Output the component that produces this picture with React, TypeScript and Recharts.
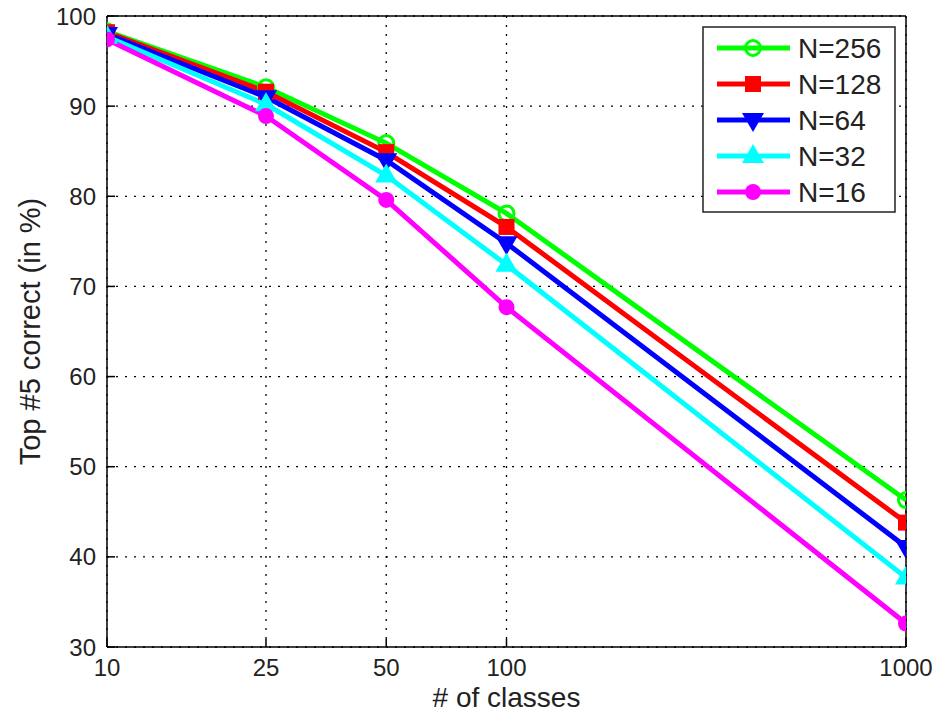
import React from 'react'
import {
  LineChart,
  Line,
  XAxis,
  YAxis,
  CartesianGrid,
  ReferenceLine,
  Legend,
} from 'recharts'

const classes = [10, 25, 50, 100, 1000]
const n256 = [98.3, 92.1, 85.9, 78.1, 46.3]
const n128 = [98.2, 91.6, 84.9, 76.6, 43.8]
const n64 = [98.0, 91.0, 84.0, 74.8, 41.1]
const n32 = [97.7, 90.2, 82.3, 72.4, 37.7]
const n16 = [97.4, 88.9, 79.6, 67.7, 32.6]

const xTicks = [10, 25, 50, 100, 1000]
const yTicks = [30, 40, 50, 60, 70, 80, 90, 100]

const series = [
  { key: 'n256', name: 'N=256', color: '#00ff00', shape: 'openCircle', values: n256 },
  { key: 'n128', name: 'N=128', color: '#ff0000', shape: 'square', values: n128 },
  { key: 'n64', name: 'N=64', color: '#0000ff', shape: 'triDown', values: n64 },
  { key: 'n32', name: 'N=32', color: '#00ffff', shape: 'triUp', values: n32 },
  { key: 'n16', name: 'N=16', color: '#ff00ff', shape: 'circle', values: n16 },
]

const data = classes.map((c, i) => {
  const row: Record<string, number> = { classes: c }
  series.forEach((s) => {
    row[s.key] = s.values[i]
  })
  return row
})

const font = '"Liberation Sans", Arial, Helvetica, sans-serif'

function Marker({ cx, cy, shape, color }: { cx: number; cy: number; shape: string; color: string }) {
  if (cx == null || cy == null) return null
  switch (shape) {
    case 'openCircle':
      return <circle cx={cx} cy={cy} r={7.5} fill="none" stroke={color} strokeWidth={3} />
    case 'square':
      return <rect x={cx - 8} y={cy - 8} width={16} height={16} fill={color} />
    case 'triDown':
      return <path d={`M${cx - 11},${cy - 7} L${cx + 11},${cy - 7} L${cx},${cy + 12} Z`} fill={color} />
    case 'triUp':
      return <path d={`M${cx - 11},${cy + 7} L${cx + 11},${cy + 7} L${cx},${cy - 12} Z`} fill={color} />
    default:
      return <circle cx={cx} cy={cy} r={8} fill={color} />
  }
}

function LegendBox() {
  return (
    <svg width={194} height={187} style={{ display: 'block' }}>
      <rect x={1} y={1} width={192} height={185} fill="#fff" stroke="#222" strokeWidth={1.5} />
      {series.map((s, i) => {
        const y = 22 + i * 36
        return (
          <g key={s.key}>
            <line x1={15} x2={88} y1={y} y2={y} stroke={s.color} strokeWidth={5} />
            <Marker cx={51} cy={y} shape={s.shape} color={s.color} />
            <text x={96} y={y + 10} fontSize={28} fontFamily={font} fill="#222">
              {s.name}
            </text>
          </g>
        )
      })}
    </svg>
  )
}

export default function App() {
  return (
    <div style={{ position: 'absolute', left: 0, top: 0, width: 936, height: 712, background: '#fff' }}>
      <LineChart
        width={936}
        height={712}
        data={data}
        margin={{ top: 16, right: 30, bottom: 0, left: 47 }}
      >
        <CartesianGrid stroke="#000" strokeDasharray="2 7" strokeWidth={1.3} />
        <XAxis
          dataKey="classes"
          type="number"
          scale="log"
          domain={[10, 1000]}
          ticks={xTicks}
          allowDataOverflow
          height={65}
          stroke="#000"
          strokeWidth={1.5}
          tickSize={-8}
          tickMargin={20}
          tick={{ fill: '#222', fontSize: 24, fontFamily: font }}
          label={{ value: '# of classes', position: 'insideBottom', offset: 5, fill: '#222', fontSize: 28, fontFamily: font }}
        />
        <YAxis
          type="number"
          domain={[30, 100]}
          ticks={yTicks}
          width={60}
          stroke="#000"
          strokeWidth={1.5}
          tickSize={-8}
          tickMargin={19}
          tick={{ fill: '#222', fontSize: 24, fontFamily: font }}
          label={{
            value: 'Top #5 correct (in %)',
            angle: -90,
            position: 'insideLeft',
            offset: -17,
            style: { textAnchor: 'middle' },
            fill: '#222',
            fontSize: 29,
            fontFamily: font,
          }}
        />
        <ReferenceLine x={1000} stroke="#000" strokeWidth={1.5} />
        <ReferenceLine y={100} stroke="#000" strokeWidth={1.5} />
        {series.map((s) => (
          <Line
            key={s.key}
            dataKey={s.key}
            name={s.name}
            type="linear"
            stroke={s.color}
            strokeWidth={5}
            isAnimationActive={false}
            dot={(p: any) => <Marker key={`${s.key}-${p.index}`} cx={p.cx} cy={p.cy} shape={s.shape} color={s.color} />}
            activeDot={false}
          />
        ))}
        <Legend
          layout="vertical"
          align="center"
          verticalAlign="middle"
          content={() => <LegendBox />}
          wrapperStyle={{ top: 26, left: 702, width: 194, height: 187 }}
        />
      </LineChart>
    </div>
  )
}
